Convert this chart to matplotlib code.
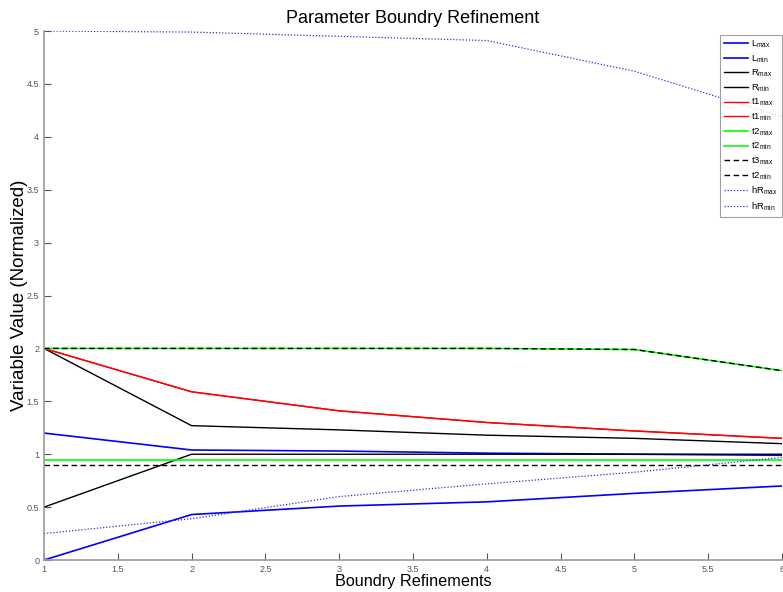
import matplotlib
matplotlib.use('Agg')
import matplotlib.pyplot as plt
import numpy as np

matplotlib.rcParams['font.family'] = ['Liberation Sans', 'DejaVu Sans']
matplotlib.rcParams['xtick.direction'] = 'in'
matplotlib.rcParams['ytick.direction'] = 'in'

refinements = [1, 2, 3, 4, 5, 6]

L_max = [1.2, 1.04, 1.03, 1.01, 1.0, 0.99]
L_min = [0.0, 0.43, 0.51, 0.55, 0.63, 0.70]
R_max = [2.0, 1.27, 1.23, 1.18, 1.15, 1.10]
R_min = [0.5, 1.0, 1.0, 1.0, 1.0, 1.0]
t1_max = [2.0, 1.59, 1.41, 1.30, 1.22, 1.15]
t1_min = [2.0, 1.59, 1.41, 1.30, 1.22, 1.15]
t2_max = [2.0, 2.0, 2.0, 2.0, 1.99, 1.79]
t2_min = [0.95, 0.95, 0.95, 0.95, 0.95, 0.95]
t3_max = [2.0, 2.0, 2.0, 2.0, 1.99, 1.79]
t3_min = [0.9, 0.9, 0.9, 0.9, 0.9, 0.9]
hR_max = [5.0, 4.99, 4.95, 4.91, 4.62, 4.19]
hR_min = [0.25, 0.39, 0.60, 0.72, 0.83, 0.97]

fig = plt.figure(figsize=(7.83, 5.92), dpi=100)
ax = fig.add_axes([0.0562, 0.054, 0.9425, 0.8936])

ax.plot(refinements, L_max, color='#0000ff', lw=1.2, label=r'$\mathregular{L_{max}}$')
ax.plot(refinements, L_min, color='#0000ff', lw=1.2, label=r'$\mathregular{L_{min}}$')
ax.plot(refinements, R_max, color='black', lw=1.0, label=r'$\mathregular{R_{max}}$')
ax.plot(refinements, R_min, color='black', lw=1.0, label=r'$\mathregular{R_{min}}$')
ax.plot(refinements, t1_max, color='#ff0000', lw=1.0, label=r'$\mathregular{t1_{max}}$')
ax.plot(refinements, t1_min, color='#ff0000', lw=1.0, label=r'$\mathregular{t1_{min}}$')
ax.plot(refinements, t2_max, color='#00ff00', lw=1.2, label=r'$\mathregular{t2_{max}}$')
ax.plot(refinements, t2_min, color='#00ff00', lw=1.2, label=r'$\mathregular{t2_{min}}$')
ax.plot(refinements, t3_max, color='black', lw=1.0, ls=(0, (4, 2.5)), label=r'$\mathregular{t3_{max}}$')
ax.plot(refinements, t3_min, color='black', lw=1.0, ls=(0, (4, 2.5)), label=r'$\mathregular{t2_{min}}$')
ax.plot(refinements, hR_max, color='#3030d0', lw=0.9, ls=(0, (1, 1.5)), label=r'$\mathregular{hR_{max}}$')
ax.plot(refinements, hR_min, color='#3030d0', lw=0.9, ls=(0, (1, 1.5)), label=r'$\mathregular{hR_{min}}$')

ax.set_xlim(1, 6)
ax.set_ylim(0, 5)
ax.set_xticks(np.arange(1, 6.01, 0.5))
ax.set_yticks(np.arange(0, 5.01, 0.5))
ax.set_xticklabels(['1', '1.5', '2', '2.5', '3', '3.5', '4', '4.5', '5', '5.5', '6'])
ax.set_yticklabels(['0', '0.5', '1', '1.5', '2', '2.5', '3', '3.5', '4', '4.5', '5'])
ax.tick_params(labelsize=6.5, colors='#555555', length=5, width=0.8)

for side in ['top', 'right']:
    ax.spines[side].set_visible(False)
for side in ['left', 'bottom']:
    ax.spines[side].set_color('#999999')
    ax.spines[side].set_linewidth(1.2)

ax.set_title('Parameter Boundry Refinement', fontsize=13, pad=6)
ax.set_xlabel('Boundry Refinements', fontsize=11.7, labelpad=0)
ax.set_ylabel('Variable Value (Normalized)', fontsize=13.5)
ax.yaxis.set_label_coords(-0.022, 0.5)

leg = ax.legend(loc='upper right', bbox_to_anchor=(1.0, 0.993), borderaxespad=0,
                fontsize=6.8, handlelength=2.5, handletextpad=0.4,
                labelspacing=0.33, borderpad=0.4, frameon=True, fancybox=False)
leg.get_frame().set_edgecolor('#888888')
leg.get_frame().set_linewidth(0.8)

plt.savefig('out.png', dpi=100)
